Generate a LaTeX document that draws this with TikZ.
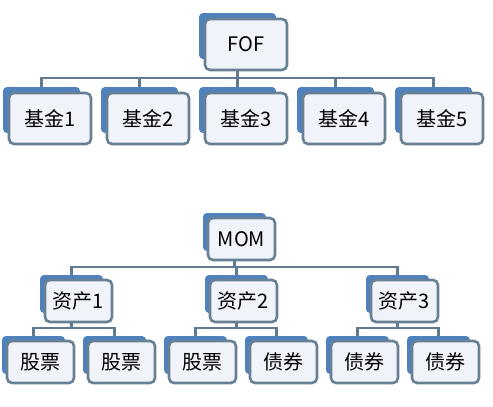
\documentclass[tikz,border=0pt]{standalone}
\usepackage{fontspec}
\newfontfamily\cjk{Noto Sans CJK SC}
\definecolor{backblue}{RGB}{79,129,189}
\definecolor{edgegray}{RGB}{104,128,148}
\definecolor{linegray}{RGB}{96,122,146}
\definecolor{frontfill}{RGB}{240,244,250}
\pgfdeclarelayer{bg}
\pgfsetlayers{bg,main}
\tikzset{
  backbox/.style={draw=none, fill=backblue, rounded corners=4pt, anchor=north west, inner sep=0pt, outer sep=0pt},
  frontbox/.style={draw=edgegray, line width=2.6pt, fill=frontfill, rounded corners=5pt, anchor=north west,
     inner sep=0pt, outer sep=0pt, font=\cjk\fontsize{20}{20}\selectfont, text=black},
  conn/.style={draw=linegray, line width=2.6pt}
}
\newcommand\topbox[4]{%
  \node[backbox, minimum width=77pt, minimum height=46pt] (#1b) at (#2-6,#3-6) {};
  \node[frontbox, minimum width=82pt, minimum height=51pt] (#1) at (#2,#3) {#4};
}
\newcommand\lowbox[4]{%
  \node[backbox, minimum width=63pt, minimum height=38pt] (#1b) at (#2-5,#3-5) {};
  \node[frontbox, minimum width=67pt, minimum height=42pt] (#1) at (#2,#3) {#4};
}
\begin{document}
\begin{tikzpicture}[x=1pt,y=-1pt]
\useasboundingbox (0,0) rectangle (493,407);
% top tree
\topbox{fof}{205}{19}{FOF}
\topbox{f1}{9}{93}{基金1}
\topbox{f2}{107}{93}{基金2}
\topbox{f3}{205}{93}{基金3}
\topbox{f4}{303}{93}{基金4}
\topbox{f5}{401}{93}{基金5}
\coordinate (busA) at (0,78);
% bottom tree
\lowbox{mom}{208}{218}{MOM}
\lowbox{a1}{45}{280}{资产1}
\lowbox{a2}{210}{280}{资产2}
\lowbox{a3}{371}{280}{资产3}
\lowbox{l1}{7}{341}{股票}
\lowbox{l2}{88}{341}{股票}
\lowbox{l3}{169}{341}{股票}
\lowbox{l4}{250}{341}{债券}
\lowbox{l5}{331}{341}{债券}
\lowbox{l6}{412}{341}{债券}
\coordinate (busB) at (0,267);
\coordinate (busC) at (0,328);
\begin{pgfonlayer}{bg}
\foreach \c in {f1,f2,f3,f4,f5}
  \draw[conn] (fofb.south) |- (\c b.north |- busA) -- (\c b.north);
\foreach \c in {a1,a2,a3}
  \draw[conn] (momb.south) |- (\c b.north |- busB) -- (\c b.north);
\foreach \p/\c in {a1/l1,a1/l2,a2/l3,a2/l4,a3/l5,a3/l6}
  \draw[conn] (\p b.south) |- (\c b.north |- busC) -- (\c b.north);
\end{pgfonlayer}
\end{tikzpicture}
\end{document}
